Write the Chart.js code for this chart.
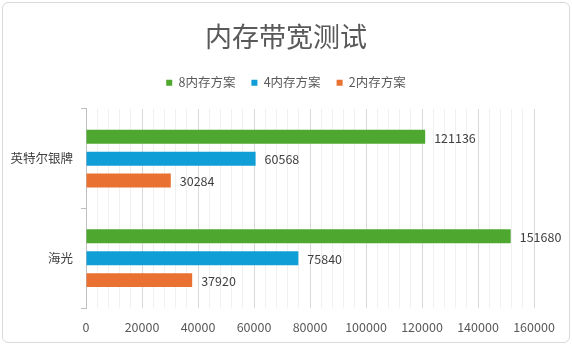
<!DOCTYPE html>
<html>
<head>
<meta charset="utf-8">
<script src="https://cdn.jsdelivr.net/npm/chart.js@4/dist/chart.umd.min.js"></script>
<style>
  html,body{margin:0;padding:0;background:#fff;}
  #wrap{position:relative;width:572px;height:345px;}
  #frame{position:absolute;left:2px;top:2px;right:2px;bottom:2px;border:1px solid #d9d9d9;border-radius:6px;pointer-events:none;}
</style>
</head>
<body>
<div id="wrap">
  <canvas id="c" width="572" height="345"></canvas>
  <div id="frame"></div>
</div>
<script>
const categories = ['英特尔银牌', '海光'];
const seriesNames = ['8内存方案', '4内存方案', '2内存方案'];
const values8 = [121136, 151680];
const values4 = [60568, 75840];
const values2 = [30284, 37920];
const xTicks = [0, 20000, 40000, 60000, 80000, 100000, 120000, 140000, 160000];

const FONT = '"Noto Sans CJK SC", "Noto Sans", sans-serif';
const colors = ['#4EA72E', '#0F9ED5', '#E97132'];

const valueLabels = {
  id: 'valueLabels',
  afterDatasetsDraw(chart) {
    const ctx = chart.ctx;
    ctx.save();
    ctx.font = '12.5px ' + FONT;
    ctx.fillStyle = '#404040';
    ctx.textAlign = 'left';
    ctx.textBaseline = 'middle';
    chart.data.datasets.forEach((ds, i) => {
      chart.getDatasetMeta(i).data.forEach((bar, j) => {
        ctx.fillText(String(ds.data[j]), bar.x + 9, bar.y + 1);
      });
    });
    ctx.restore();
  }
};

const legendGap = {
  id: 'legendGap',
  beforeInit(chart) {
    const fit = chart.legend.fit;
    chart.legend.fit = function () { fit.bind(chart.legend)(); this.height += 10; };
  }
};

new Chart(document.getElementById('c'), {
  type: 'bar',
  data: {
    labels: categories,
    datasets: [
      { label: seriesNames[0], data: values8, backgroundColor: colors[0] },
      { label: seriesNames[1], data: values4, backgroundColor: colors[1] },
      { label: seriesNames[2], data: values2, backgroundColor: colors[2] }
    ]
  },
  options: {
    indexAxis: 'y',
    responsive: false,
    animation: false,
    devicePixelRatio: 1,
    categoryPercentage: 0.66,
    barPercentage: 0.636,
    layout: { autoPadding: false, padding: { left: 0, right: 0, top: 0, bottom: 0 } },
    plugins: {
      title: {
        display: true,
        text: '内存带宽测试',
        color: '#595959',
        font: { family: FONT, size: 27, weight: 'normal' },
        padding: { top: 21, bottom: 7 }
      },
      legend: {
        display: true,
        position: 'top',
        labels: {
          color: '#595959',
          font: { family: FONT, size: 12.5 },
          boxWidth: 6,
          boxHeight: 6,
          padding: 16
        }
      },
      tooltip: { enabled: false }
    },
    scales: {
      x2: {
        type: 'linear',
        axis: 'x',
        position: 'bottom',
        min: 0, max: 160000,
        afterFit(scale) { scale.height = 0; },
        ticks: { display: false, stepSize: 4000 },
        grid: { color: '#f0f0f0', drawTicks: false, tickLength: 0 },
        border: { display: false }
      },
      x: {
        type: 'linear',
        position: 'bottom',
        min: 0, max: 160000,
        afterFit(scale) { scale.height = 37; },
        afterBuildTicks(scale) { scale.ticks = xTicks.map(v => ({ value: v })); },
        ticks: {
          color: '#595959',
          font: { family: FONT, size: 12.5 },
          padding: 12,
          maxRotation: 0,
          callback: (v) => String(v)
        },
        grid: { color: '#d9d9d9', drawTicks: false },
        border: { display: false }
      },
      y: {
        type: 'category',
        afterFit(scale) { scale.width = 86; },
        ticks: {
          color: '#404040',
          font: { family: FONT, size: 12.5 },
          padding: 8
        },
        grid: { drawOnChartArea: false, drawTicks: true, tickLength: 5, color: '#bfbfbf', offset: true },
        border: { display: true, color: '#bfbfbf' }
      },
      yRight: {
        type: 'category',
        axis: 'y',
        position: 'right',
        afterFit(scale) { scale.width = 38; },
        ticks: { display: false },
        grid: { display: false, drawTicks: false },
        border: { display: false }
      }
    }
  },
  plugins: [valueLabels, legendGap]
});
</script>
</body>
</html>
